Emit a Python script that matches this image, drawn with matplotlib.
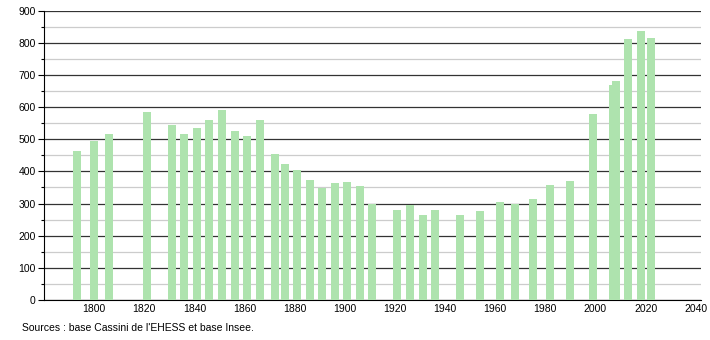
import matplotlib
matplotlib.use('Agg')
import matplotlib.pyplot as plt
from matplotlib.ticker import MultipleLocator

years = [1793, 1800, 1806, 1821, 1831, 1836, 1841, 1846, 1851, 1856, 1861, 1866,
         1872, 1876, 1881, 1886, 1891, 1896, 1901, 1906, 1911, 1921, 1926, 1931,
         1936, 1946, 1954, 1962, 1968, 1975, 1982, 1990, 1999, 2007, 2008, 2013,
         2018, 2022]
population = [463, 494, 516, 584, 544, 516, 535, 559, 590, 525, 511, 559,
              453, 423, 404, 373, 347, 363, 367, 355, 299, 280, 295, 264,
              280, 264, 276, 304, 300, 314, 357, 370, 578, 668, 680, 811,
              836, 814]
source = "Sources : base Cassini de l'EHESS et base Insee."

plt.rcParams['font.family'] = ['Liberation Sans', 'DejaVu Sans']
plt.rcParams['font.size'] = 7.5

fig = plt.figure(figsize=(7.1, 3.4), dpi=100)
ax = fig.add_axes([0.062, 0.1176, 0.925, 0.851])

ax.bar(years, population, width=3.2, color='#aee3ae', zorder=3)

ax.set_xlim(1780, 2042)
ax.set_ylim(0, 900)
ax.yaxis.set_major_locator(MultipleLocator(100))
ax.yaxis.set_minor_locator(MultipleLocator(50))
ax.xaxis.set_major_locator(MultipleLocator(20))
ax.set_xticks(range(1800, 2041, 20))

ax.grid(axis='y', which='major', color='#333333', linewidth=0.9, zorder=1)
ax.grid(axis='y', which='minor', color='#cccccc', linewidth=0.9, zorder=1)

for s in ['top', 'right']:
    ax.spines[s].set_visible(False)
ax.spines['left'].set_color('black')
ax.spines['bottom'].set_color('black')

ax.tick_params(axis='y', which='major', length=4, width=0.8, pad=2)
ax.tick_params(axis='y', which='minor', length=2, width=0.8)
ax.tick_params(axis='x', which='both', length=0, pad=3)

fig.text(0.031, 0.035, source, fontsize=7.5, ha='left', va='center')

fig.savefig('out.png', dpi=100)
